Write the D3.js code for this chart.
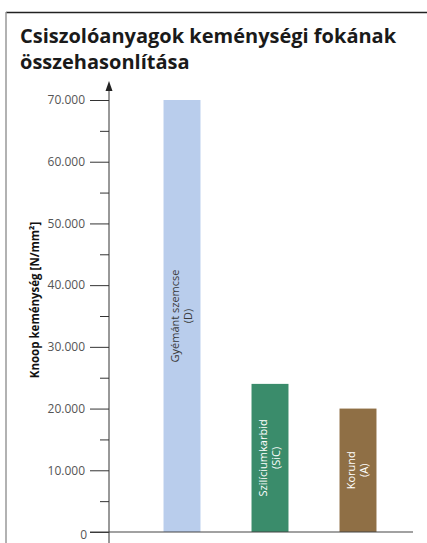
<!DOCTYPE html>
<html>
<head>
<meta charset="utf-8">
<script src="https://cdn.jsdelivr.net/npm/d3@7"></script>
<style>
  body { margin: 0; background: #fff; }
  svg { display: block; }
</style>
</head>
<body>
<div id="chart"></div>
<script>
const categories = ['Gyémánt szemcse', 'Szilíciumkarbid', 'Korund'];
const codes = ['(D)', '(SiC)', '(A)'];
const values = [70000, 24000, 20000];
const colors = ['#b9cdec', '#3a8c6b', '#8f6f45'];
const labelColors = ['#3a3a3a', '#ffffff', '#ffffff'];
const majorTicks = [0, 10000, 20000, 30000, 40000, 50000, 60000, 70000];
const minorTicks = [5000, 15000, 25000, 35000, 45000, 55000, 65000];

const width = 427;
const height = 543;
const font = "'Open Sans', 'Noto Sans', sans-serif";

var svg = d3.select('#chart')
  .append('svg')
  .attr('width', width)
  .attr('height', height);

// frame
svg.append('line')
  .attr('x1', 6).attr('x2', width).attr('y1', 12.5).attr('y2', 12.5)
  .attr('stroke', '#222').attr('stroke-width', 1.5);
svg.append('line')
  .attr('x1', 6).attr('x2', 6).attr('y1', 12).attr('y2', height)
  .attr('stroke', '#999').attr('stroke-width', 1.5);

// title
svg.append('text')
  .attr('x', 20).attr('y', 43)
  .attr('font-family', font).attr('font-weight', 'bold')
  .attr('font-size', '20px').attr('fill', '#1a1a1a')
  .text('Csiszolóanyagok keménységi fokának');
svg.append('text')
  .attr('x', 20).attr('y', 69)
  .attr('font-family', font).attr('font-weight', 'bold')
  .attr('font-size', '20px').attr('fill', '#1a1a1a')
  .text('összehasonlítása');

const axisX = 109;

var y = d3.scaleLinear()
  .domain([0, 70000])
  .range([532, 100]);

var x = d3.scaleBand()
  .domain(categories)
  .range([138, 402])
  .paddingInner(0.58)
  .paddingOuter(0.29);

// bars
svg.selectAll('rect.bar')
  .data(categories)
  .enter()
  .append('rect')
  .attr('class', 'bar')
  .attr('x', function(d){ return x(d); })
  .attr('y', function(d, i){ return y(values[i]); })
  .attr('width', x.bandwidth())
  .attr('height', function(d, i){ return y(0) - y(values[i]); })
  .attr('fill', function(d, i){ return colors[i]; });

// bar labels
let labels = svg.selectAll('g.lbl')
  .data(categories)
  .enter()
  .append('g')
  .attr('class', 'lbl')
  .attr('transform', function(d, i){
    var cx = x(d) + x.bandwidth() / 2;
    var cy = (y(values[i]) + y(0)) / 2;
    return 'translate(' + cx + ',' + cy + ') rotate(-90)';
  });

labels.append('text')
  .attr('y', -3)
  .attr('text-anchor', 'middle')
  .attr('font-family', font)
  .attr('font-size', '11px')
  .attr('fill', function(d, i){ return labelColors[i]; })
  .text(function(d){ return d; });

labels.append('text')
  .attr('y', 10)
  .attr('text-anchor', 'middle')
  .attr('font-family', font)
  .attr('font-size', '11px')
  .attr('fill', function(d, i){ return labelColors[i]; })
  .text(function(d, i){ return codes[i]; });

// y axis
var yAxis = d3.axisLeft(y)
  .tickValues(majorTicks)
  .tickSize(19)
  .tickPadding(5)
  .tickFormat(function(d){ return d3.format(',')(d).replace(/,/g, '.'); });

var gy = svg.append('g')
  .attr('transform', 'translate(' + axisX + ',0)')
  .call(yAxis);
gy.select('.domain').remove();
gy.selectAll('.tick line').attr('stroke', '#333');
gy.selectAll('.tick text')
  .attr('font-family', font)
  .attr('font-size', '12px')
  .attr('fill', '#555');
gy.selectAll('.tick')
  .filter(function(d){ return d === 0; })
  .select('text')
  .attr('dy', '0.5em')
  .attr('x', -22);

var minor = svg.append('g')
  .attr('transform', 'translate(' + axisX + ',0)')
  .call(d3.axisLeft(y).tickValues(minorTicks).tickSize(9).tickFormat(''));
minor.select('.domain').remove();
minor.selectAll('.tick line').attr('stroke', '#333');

// vertical axis line with arrow
svg.append('line')
  .attr('x1', axisX).attr('x2', axisX)
  .attr('y1', 88).attr('y2', height)
  .attr('stroke', '#333').attr('stroke-width', 1);
svg.append('path')
  .attr('d', 'M' + axisX + ',81 L' + (axisX - 3.5) + ',91 L' + (axisX + 3.5) + ',91 Z')
  .attr('fill', '#222');

// baseline
svg.append('line')
  .attr('x1', 90).attr('x2', 413)
  .attr('y1', y(0)).attr('y2', y(0))
  .attr('stroke', '#444').attr('stroke-width', 1.2);

// y title
svg.append('text')
  .attr('transform', 'translate(39,300) rotate(-90)')
  .attr('text-anchor', 'middle')
  .attr('font-family', font)
  .attr('font-weight', 'bold')
  .attr('font-size', '11.5px')
  .attr('fill', '#111')
  .text('Knoop keménység [N/mm²]');
</script>
</body>
</html>
